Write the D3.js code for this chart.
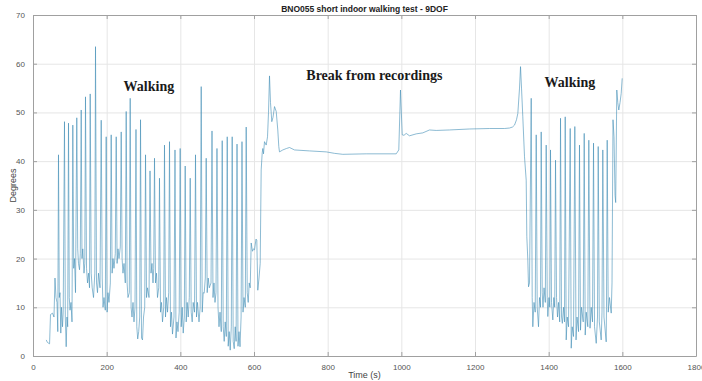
<!DOCTYPE html>
<html>
<head>
<meta charset="utf-8">
<script src="https://cdn.jsdelivr.net/npm/d3@7"></script>
<style>
  body { margin: 0; background: #fff; }
  svg text { font-family: "Liberation Sans", Arial, sans-serif; }
</style>
</head>
<body>
<svg id="chart" width="702" height="381"></svg>
<script>
// tick values
const xTicks = [0, 200, 400, 600, 800, 1000, 1200, 1400, 1600, 1800];
const yTicks = [0, 10, 20, 30, 40, 50, 60, 70];

// [time (s), degrees]
const walk1 = [[36,3.3],[39,2.8],[45,2.5],[47.5,8.5],[52.9,8.8],[57,8],[59.7,16],[62.4,12],[65.2,11],[67.3,5],
  [69.2,41.3],[71.4,12],[73.3,13],[75.5,4.7],[77.4,10],[80.1,6],[82,9],
  [85.5,48.1],[87.7,8],[90.1,1.9],[92.3,8],[94.2,6],
  [96.4,47.8],[98.5,12],[100.5,9.4],[103.2,11],[105.9,7],
  [108.1,47.4],[110.5,18],[112.7,20],[115.4,13],
  [118.9,48.9],[121.4,22],[123.5,19],[126.3,17.7],[128.4,21],
  [130.9,50.5],[133,20],[135.2,22],[138.5,17],[140.6,19],
  [142.5,53.2],[145.3,18],[148,15],[150.7,17],[153.4,14],
  [155.3,53.8],[158,17],[160.7,14],[164.3,12],[167.8,17],
  [169.7,63.5],[172.4,15],[175.1,13],[177.8,17],[181.9,14],
  [185.2,48.4],[187.9,16],[190.1,10],[192.8,12],[196.3,9.4],
  [198.7,45],[201.2,9],[203.6,13],[206.3,11],[209.9,15],
  [212.3,45.4],[214.8,17],[217.2,20],[219.9,18],[223.4,21],
  [225.9,45],[228.3,19],[230.8,22],[233.5,20],[237,22.4],
  [239.5,46],[241.9,20],[244.3,17],[247.1,19],[250.6,15],
  [253,50.2],[255.5,15],[257.9,12],[261.5,13],
  [263.9,52.9],[266.3,10],[268.8,8],[271.5,11],[274.2,7],[276.9,10],
  [279.6,46.5],[281.8,6],[284.3,3.5],[287,5],[289.7,8],
  [291.9,48.5],[294.6,3.7],[297.3,3.3],[300.1,8],[303.3,10],
  [305.5,41.3],[308.2,12],[310.9,14],[315,12],
  [317.7,38],[320.4,17],[323.1,19],[325.8,15],[327.7,18],
  [329.9,40.6],[332.6,15],[335.3,17],[338,12],[341.3,14],
  [343.4,36.5],[346.2,9],[348.9,11],[351.6,7],[354.9,10],
  [357,43.3],[359.7,8],[362.5,12],[365.2,9],[368.4,13],
  [370.6,44],[373.3,6],[376,9],[378.7,4.5],[382.8,8],
  [385.5,42.3],[388.2,3.7],[390.9,7],[393.7,5],[396.9,9],
  [399.6,42.6],[402.4,6],[405.1,10],[407.8,4.7],[410.8,8],
  [413.2,39],[415.9,7],[418.6,11],[421.4,8],[424.3,12],
  [426.8,36.5],[429.5,9],[432.2,7],[434.9,11],[438.5,9],
  [441.2,41.3],[443.9,8],[446.6,11],[450.7,7],[453.9,10],
  [456.7,55.3],[459.4,9],[462.1,13],[464.8,12.9],[467.8,16],
  [470.2,40.6],[472.9,13],[475.7,16],[478.6,14],[483.3,15],
  [486,46.2],[488.7,12],[491.4,15],[494.1,11],[496.8,13],
  [499.5,42.6],[502.3,10],[505,6],[507.7,9],[511.2,5],
  [513.7,44.2],[516.4,6],[519.1,3],[521.8,7],[524.8,4],
  [527.3,45],[530,2],[532.7,5],[535.4,1.2],[538.4,6],
  [540.8,45],[543.5,3],[546.3,1.5],[549,6],[551.4,3],
  [553.9,43.5],[556.6,2],[559.3,5],[562,1.9],[565,8],
  [567.4,44],[570.2,9],[572.9,12],[576.4,10],
  [578.8,47],[581.6,13],[584.3,11],[587,15],[589.7,14],
  [592.4,23.2],[595.9,21.5],[598.7,22],[601.4,21.8],[605.4,24],[607.6,23.8],
  [610.3,13.5],[613.6,16],[616.8,19],[619.5,38.2]];

const rest = [[622.3,41.7],[623.9,42.6],[625.8,41.5],[628.5,44],[633.1,43.3],[636.7,45],[639.4,50],
  [642.1,57.5],[644.8,52],[648.3,48.1],[651.6,49],[655.7,51.2],[660.3,50.2],[664.6,46.4],[667.3,43],
  [669.2,41.9],[678.2,42.3],[688.2,42.6],[696.4,42.8],[710,42.3],[750.7,42.1],[796.1,41.9],
  [818.6,41.6],[841.1,41.4],[904.6,41.5],[986.1,41.5],[993.1,42.3],[997.7,54.6],[1002.4,45.4],
  [1007.2,45.3],[1013.2,45.7],[1022.2,45.2],[1040.4,45.6],[1058.3,45.8],[1076.5,46.4],[1094.7,46.3],
  [1130.8,46.4],[1185.1,46.6],[1239.4,46.7],[1280.1,46.7],[1293.7,46.8],[1301.8,47],[1307.3,47.4],
  [1312.7,48.5],[1316.3,49.8],[1320.9,55],[1323.6,59.4],[1326.3,55],[1329.8,49.1],[1334.4,40.9],
  [1339,36.1],[1340.7,24.5],[1343.4,19.7],[1345.3,14.2],[1348,15]];

const walk2 = [[1352.6,52.9],[1355.3,12],[1357,6],[1360.2,11],[1363.5,9],
  [1366.2,45.4],[1368.9,10],[1372.4,6],[1375.1,12],[1377.8,10],
  [1379.7,46],[1382.5,13],[1384.6,10],[1387.4,14],[1390.9,11],
  [1393.3,43.3],[1396.1,12],[1397.7,8.1],[1400.9,12],[1403.1,10],
  [1405,42.3],[1407.7,11],[1411.3,7.4],[1414,12],[1416.4,10],
  [1418.6,40.2],[1421.3,12],[1424,8],[1426.7,11],[1430,7],
  [1432.2,48.8],[1434.9,8],[1437.1,6.7],[1440.3,10],[1443,7],
  [1444.9,49.1],[1447.6,3.3],[1450.4,8],[1453.9,6],
  [1458.5,46.7],[1461.2,1.6],[1463.9,6],[1467.5,4],
  [1471,47.1],[1474.3,3.3],[1477,8],[1481.1,5],
  [1483.7,43.3],[1486.4,5.3],[1489.2,10],[1493.8,7],
  [1496.5,45.7],[1499.2,4.3],[1502,9],[1506.3,6],
  [1509,44.3],[1512.3,5.7],[1515.5,10],[1519,7],
  [1521.8,43.7],[1524.5,6],[1529.1,2.6],[1532.6,8],
  [1534.5,43],[1537.5,7],[1542.6,3.3],[1544.8,9],
  [1547,42.3],[1550.2,8],[1556.2,2.9],[1557,10],
  [1558.9,44.3],[1561.7,9],[1565.2,12],[1569.8,8.8],[1572,15],
  [1574.7,48.5],[1577.4,45],[1580.2,33],[1582,31.5],[1585,54.6],[1587.7,52],[1590.4,50.5],
  [1593.7,52],[1596.9,53.9],[1599.6,57]];

const notes = [
  { text: "Walking", t: 246, deg: 54.4 },
  { text: "Break from recordings", t: 742, deg: 56.7 },
  { text: "Walking", t: 1389, deg: 55.2 }
];

function drawChart() {
  const margin = { top: 15, right: 6, bottom: 25, left: 33 };
  const W = 702, H = 381;
  const svg = d3.select("#chart");

  const x = d3.scaleLinear().domain([0, 1800]).range([margin.left, W - margin.right]);
  const y = d3.scaleLinear().domain([0, 70]).range([H - margin.bottom, margin.top]);

  // grid
  svg.append("g")
    .attr("transform", "translate(0," + (H - margin.bottom) + ")")
    .call(d3.axisBottom(x).tickValues(xTicks).tickSize(-(H - margin.top - margin.bottom)).tickFormat(""))
    .call(g => g.select(".domain").remove())
    .selectAll("line").attr("stroke", "#e6e6e6");
  svg.append("g")
    .attr("transform", "translate(" + margin.left + ",0)")
    .call(d3.axisLeft(y).tickValues(yTicks).tickSize(-(W - margin.left - margin.right)).tickFormat(""))
    .call(g => g.select(".domain").remove())
    .selectAll("line").attr("stroke", "#e6e6e6");

  // the trace
  const line = d3.line().x(d => x(d[0])).y(d => y(d[1]));
  svg.append("path")
    .datum(walk1.concat(rest, walk2))
    .attr("d", line)
    .attr("fill", "none")
    .attr("stroke", "#3f8db6")
    .attr("stroke-width", 0.6);

  // axes, ticks inside, box on all sides
  const axisColor = "#a0a0a0";
  const fmt = d3.format("d");
  const tickStyle = g => {
    g.select(".domain").attr("stroke", axisColor);
    g.selectAll(".tick line").attr("stroke", axisColor);
    g.selectAll("text").attr("fill", "#555").style("font-size", "8px");
  };
  svg.append("g")
    .attr("transform", "translate(0," + (H - margin.bottom) + ")")
    .call(d3.axisBottom(x).tickValues(xTicks).tickFormat(fmt).tickSizeInner(-4).tickSizeOuter(0).tickPadding(8))
    .call(tickStyle);
  svg.append("g")
    .attr("transform", "translate(0," + margin.top + ")")
    .call(d3.axisTop(x).tickValues(xTicks).tickSizeInner(-4).tickSizeOuter(0).tickFormat(""))
    .call(tickStyle);
  svg.append("g")
    .attr("transform", "translate(" + margin.left + ",0)")
    .call(d3.axisLeft(y).tickValues(yTicks).tickFormat(fmt).tickSizeInner(-4).tickSizeOuter(0).tickPadding(8))
    .call(tickStyle);
  svg.append("g")
    .attr("transform", "translate(" + (W - margin.right) + ",0)")
    .call(d3.axisRight(y).tickValues(yTicks).tickSizeInner(-4).tickSizeOuter(0).tickFormat(""))
    .call(tickStyle);

  // title and axis labels
  svg.append("text")
    .attr("x", (margin.left + W - margin.right) / 2)
    .attr("y", 12)
    .attr("text-anchor", "middle")
    .style("font-size", "8.5px")
    .style("font-weight", "bold")
    .attr("fill", "#222")
    .text("BNO055 short indoor walking test - 9DOF");
  svg.append("text")
    .attr("x", (margin.left + W - margin.right) / 2)
    .attr("y", 378)
    .attr("text-anchor", "middle")
    .style("font-size", "9px")
    .attr("fill", "#444")
    .text("Time (s)");
  svg.append("text")
    .attr("transform", "translate(16," + ((margin.top + H - margin.bottom) / 2) + ") rotate(-90)")
    .attr("text-anchor", "middle")
    .style("font-size", "9px")
    .attr("fill", "#444")
    .text("Degrees");

  // annotations
  svg.selectAll(".note")
    .data(notes)
    .enter().append("text")
    .attr("class", "note")
    .attr("x", d => x(d.t))
    .attr("y", d => y(d.deg))
    .style("font-family", "'Liberation Serif', 'Times New Roman', serif")
    .style("font-size", "14px")
    .style("font-weight", "bold")
    .attr("fill", "#1a1a1a")
    .text(d => d.text);
}

drawChart();
</script>
</body>
</html>
